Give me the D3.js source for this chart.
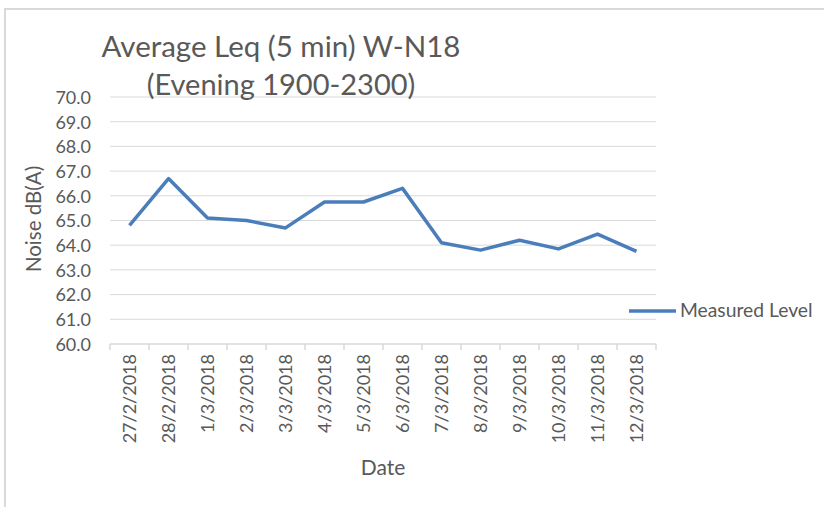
<!DOCTYPE html>
<html lang="en">
<head>
<meta charset="UTF-8">
<title>Average Leq W-N18</title>
<script src="https://d3js.org/d3.v7.min.js"></script>
<style>
  body { margin: 0; background: #fff; }
  svg text { font-family: Lato, "Open Sans", sans-serif; fill: #595959; }
</style>
</head>
<body>
<div id="chart"></div>
<script>
const dates = ["27/2/2018", "28/2/2018", "1/3/2018", "2/3/2018", "3/3/2018", "4/3/2018", "5/3/2018",
               "6/3/2018", "7/3/2018", "8/3/2018", "9/3/2018", "10/3/2018", "11/3/2018", "12/3/2018"];
const measured = [64.8, 66.7, 65.1, 65.0, 64.7, 65.75, 65.75, 66.3, 64.1, 63.8, 64.2, 63.85, 64.45, 63.75];
const yTicks = [60, 61, 62, 63, 64, 65, 66, 67, 68, 69, 70];
const titleLines = ["Average Leq (5 min) W-N18", "(Evening 1900-2300)"];

const w = 824, h = 507;
const plotL = 110, plotR = 656, plotT = 97, plotB = 344;

const svg = d3.select("#chart").append("svg")
    .attr("width", w)
    .attr("height", h);

// chart border (only top/left visible in the crop)
svg.append("rect")
   .attr("x", 5).attr("y", 9)
   .attr("width", 840).attr("height", 540)
   .attr("fill", "none")
   .attr("stroke", "#d9d9d9")
   .attr("stroke-width", 2);

const x = d3.scaleBand().domain(dates).range([plotL, plotR]);
const y = d3.scaleLinear().domain([60, 70]).range([plotB, plotT]);

// gridlines
svg.append("g")
   .selectAll("line")
   .data(yTicks.slice(1))
   .join("line")
   .attr("x1", plotL).attr("x2", plotR)
   .attr("y1", d => y(d)).attr("y2", d => y(d))
   .attr("stroke", "#d9d9d9")
   .attr("stroke-width", 1);

// y axis labels
const yAxis = d3.axisLeft(y).tickValues(yTicks).tickFormat(d3.format(".1f")).tickSize(0).tickPadding(19);
const gy = svg.append("g").attr("transform", `translate(${plotL},0)`).call(yAxis);
gy.select(".domain").remove();
gy.selectAll("text").style("font-size", "18px").attr("fill", "#595959").attr("dy", "0.35em");

// x axis
const gx = svg.append("g").attr("transform", `translate(0,${plotB})`);
gx.append("line")
  .attr("x1", plotL).attr("x2", plotR)
  .attr("stroke", "#d9d9d9").attr("stroke-width", 1.5);
gx.selectAll(".tk")
  .data(dates.concat(["end"]))
  .join("line")
  .attr("class", "tk")
  .attr("x1", (d, i) => i < dates.length ? x(d) : plotR)
  .attr("x2", (d, i) => i < dates.length ? x(d) : plotR)
  .attr("y1", 0).attr("y2", 6)
  .attr("stroke", "#d9d9d9").attr("stroke-width", 1.5);
gx.selectAll(".lbl")
  .data(dates)
  .join("text")
  .attr("class", "lbl")
  .attr("transform", d => `translate(${x(d) + x.bandwidth() / 2 + 6},10) rotate(-90)`)
  .attr("text-anchor", "end")
  .style("font-size", "18px")
  .text(d => d);

// line
const line = d3.line()
    .x((d, i) => x(dates[i]) + x.bandwidth() / 2)
    .y(d => y(d));
svg.append("path")
   .datum(measured)
   .attr("d", line)
   .attr("fill", "none")
   .attr("stroke", "#4a7ebb")
   .attr("stroke-width", 3.5)
   .attr("stroke-linejoin", "round");

// titles
svg.append("text")
   .attr("x", 281).attr("y", 57)
   .attr("text-anchor", "middle")
   .style("font-size", "29.5px")
   .text(titleLines[0]);
svg.append("text")
   .attr("x", 281).attr("y", 95)
   .attr("text-anchor", "middle")
   .style("font-size", "29px")
   .text(titleLines[1]);

svg.append("text")
   .attr("transform", "translate(41,219) rotate(-90)")
   .attr("text-anchor", "middle")
   .style("font-size", "20.5px")
   .text("Noise dB(A)");

svg.append("text")
   .attr("x", 383).attr("y", 475)
   .attr("text-anchor", "middle")
   .style("font-size", "21px")
   .text("Date");

// legend
svg.append("line")
   .attr("x1", 629).attr("x2", 676)
   .attr("y1", 311).attr("y2", 311)
   .attr("stroke", "#4a7ebb").attr("stroke-width", 3.5);
svg.append("text")
   .attr("x", 680).attr("y", 317)
   .style("font-size", "19.3px")
   .text("Measured Level");
</script>
</body>
</html>
